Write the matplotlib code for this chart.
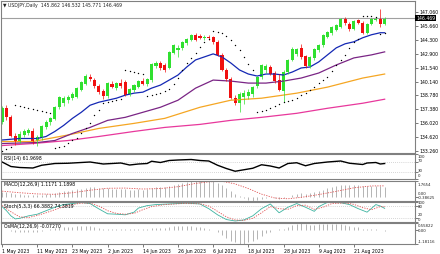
import matplotlib
matplotlib.use("Agg")
import matplotlib.pyplot as plt

W, H = 440, 254

# --- USDJPY daily candles, 1 May 2023 .. 30 Aug 2023 ---
opens = [136.1, 137.5, 136.6, 134.7, 134.3, 134.8, 135.0, 135.2, 134.3, 134.5,
         135.6, 136.1, 136.4, 137.6, 138.0, 138.3, 138.5, 138.6, 139.3, 139.9,
         140.6, 140.3, 139.7, 139.2, 138.7, 139.9, 139.5, 140.0, 140.1, 138.9,
         139.3, 139.6, 140.2, 139.9, 140.3, 141.7, 142.0, 141.8, 141.5, 143.0,
         143.3, 143.5, 144.0, 144.3, 144.8, 144.7, 144.5, 144.6, 144.6, 144.1,
         142.8, 141.3, 140.4, 138.5, 138.0, 138.6, 138.7, 138.9, 139.7, 140.6,
         141.3, 141.6, 141.0, 140.3, 139.2, 141.1, 142.3, 142.9, 143.5, 142.7,
         141.7, 142.5, 143.3, 143.8, 144.6, 145.0, 145.3, 145.6, 146.4, 145.9,
         145.4, 146.3, 146.0, 145.0, 145.9, 146.3, 146.5, 145.862]
highs = [137.7, 137.8, 136.8, 135.0, 135.2, 135.4, 135.5, 135.5, 134.8, 135.8,
         136.3, 136.6, 137.7, 138.7, 138.7, 138.8, 139.1, 139.6, 140.2, 140.9,
         140.9, 140.5, 139.9, 139.4, 140.1, 140.2, 140.1, 140.4, 140.3, 139.5,
         139.9, 140.3, 140.5, 140.5, 142.0, 142.2, 142.2, 142.0, 143.2, 143.9,
         143.8, 144.2, 144.5, 144.9, 145.0, 144.9, 144.8, 144.8, 144.7, 144.3,
         143.0, 141.5, 140.6, 138.8, 139.1, 139.3, 139.4, 139.7, 140.7, 141.9,
         141.9, 141.8, 141.2, 140.9, 141.3, 142.4, 143.6, 143.5, 143.9, 142.8,
         142.7, 143.5, 143.9, 144.9, 145.2, 145.7, 145.9, 146.5, 146.6, 146.1,
         146.3, 146.4, 146.2, 146.0, 146.5, 146.6, 147.4, 146.532]
lows = [135.9, 136.3, 134.6, 133.9, 134.1, 134.6, 134.8, 134.0, 133.8, 134.4,
        135.4, 135.8, 136.3, 137.4, 137.7, 138.0, 138.3, 138.5, 139.2, 139.8,
        140.2, 139.5, 138.9, 138.4, 138.5, 139.5, 139.3, 139.5, 138.7, 138.7,
        139.1, 139.5, 139.8, 139.7, 140.1, 141.5, 141.3, 141.1, 141.4, 142.9,
        142.6, 143.3, 143.8, 144.2, 144.2, 144.4, 144.3, 144.3, 143.9, 142.7,
        141.2, 140.2, 138.4, 137.8, 137.1, 137.9, 138.4, 138.6, 139.5, 140.4,
        141.0, 140.8, 140.0, 139.2, 138.1, 140.9, 142.2, 142.7, 142.4, 141.5,
        141.5, 142.3, 143.1, 143.6, 144.5, 144.8, 145.2, 145.5, 145.8, 145.2,
        145.3, 145.9, 144.9, 144.9, 145.8, 146.2, 145.6, 145.771]
closes = [137.5, 136.6, 134.7, 134.2, 134.9, 135.2, 135.3, 134.3, 134.6, 135.7,
          136.1, 136.5, 137.6, 138.6, 138.5, 138.6, 138.9, 139.5, 140.1, 140.7,
          140.4, 139.7, 139.1, 138.7, 140.0, 139.6, 140.0, 139.7, 138.8, 139.4,
          139.8, 140.2, 139.9, 140.4, 141.9, 142.0, 141.5, 141.3, 143.1, 143.8,
          143.5, 144.1, 144.4, 144.8, 144.3, 144.5, 144.6, 144.5, 144.1, 142.8,
          141.3, 140.4, 138.5, 138.0, 138.9, 139.0, 139.1, 139.6, 140.6, 141.8,
          141.7, 140.9, 140.2, 139.3, 141.1, 142.3, 143.4, 143.4, 142.6, 141.7,
          142.6, 143.4, 143.8, 144.8, 145.1, 145.6, 145.8, 146.4, 146.0, 145.4,
          146.2, 146.0, 145.0, 145.9, 146.4, 146.5, 145.9, 146.469]

# moving averages, sampled along the chart
blue_idx = [0, 4, 8, 10, 12, 14, 16, 18, 20, 22, 24, 26, 28, 30, 32, 34, 36, 38, 40, 42,
            44, 46, 48, 50, 52, 54, 56, 58, 60, 62, 64, 66, 68, 70, 72, 74, 76, 78, 80,
            82, 84, 86, 87]
blue_ma = [134.35, 134.5, 134.5, 134.7, 135.2, 135.8, 136.5, 137.1, 137.8, 138.1, 138.3,
           138.5, 138.8, 139.0, 139.1, 139.5, 139.8, 140.3, 140.8, 141.6, 142.3, 142.6,
           142.9, 142.6, 142.0, 141.3, 140.9, 140.7, 140.9, 140.9, 140.8, 141.1, 141.5,
           141.6, 142.1, 142.8, 143.5, 143.9, 144.1, 144.5, 144.8, 145.0, 145.0]
purple_idx = [0, 4, 8, 12, 16, 20, 24, 28, 32, 36, 40, 44, 48, 52, 56, 60, 64, 68, 72,
              76, 80, 84, 87]
purple_ma = [134.0, 134.05, 134.1, 134.3, 135.0, 135.6, 136.3, 136.6, 137.1, 137.6, 138.3,
             139.5, 140.3, 140.2, 140.0, 140.0, 140.2, 140.5, 141.0, 141.8, 142.5, 142.8, 143.1]
slow_idx = [0, 7, 15, 22, 30, 37, 45, 52, 59, 67, 74, 82, 87]
orange_ma = [134.2, 134.2, 134.85, 135.5, 136.0, 136.5, 137.6, 138.3, 138.5, 139.0, 139.6,
             140.5, 140.9]
magenta_ma = [133.8, 134.0, 134.3, 134.7, 135.2, 135.6, 135.9, 136.3, 136.6, 137.0, 137.5,
              138.0, 138.4]

sar = [133.3, 133.5, 133.7, 137.8, 137.7, 137.6, 137.5, 137.4, 137.3, 137.2,
       137.1, 137.0, 133.6, 133.7, 133.8, 134.1, 134.35, 134.5, 135.0, 135.5,
       136.0, 136.8, 137.3, 138.0, 138.1, 138.2, 138.3, 138.4, 141.3, 141.2,
       141.1, 141.0, 140.9, 138.7, 138.8, 138.9, 139.0, 139.2, 139.4, 139.9,
       140.5, 141.3, 142.0, 142.5, 143.0, 143.6, 144.1, 144.4, 145.2, 145.1,
       145.0, 144.7, 144.3, 143.8, 143.3, 142.6, 141.9, 141.3, 137.1, 137.2,
       137.35, 137.5, 137.7, 137.9, 138.1, 138.2, 138.3, 138.5, 138.8, 139.0,
       139.3, 139.6, 140.0, 140.3, 140.6, 141.2, 141.8, 142.3, 142.8, 143.5,
       144.1, 144.4, 146.7, 146.7, 146.65, 146.6, 144.9, 145.0]

rsi_idx = [0, 2, 4, 7, 9, 12, 15, 18, 20, 23, 25, 27, 29, 31, 33, 34, 36, 38, 40, 43, 45,
           47, 49, 51, 53, 54, 57, 59, 61, 63, 65, 67, 69, 71, 74, 77, 79, 82, 83, 85, 86, 87]
rsi = [68, 50, 46, 44, 55, 62, 63, 66, 68, 60, 62, 64, 56, 60, 62, 71, 66, 74, 76, 78, 74,
       72, 55, 42, 31, 34, 43, 57, 52, 44, 62, 65, 53, 62, 68, 72, 63, 58, 64, 66, 60, 61.97]

macd = [0.55, 0.52, 0.45, 0.35, 0.28, 0.25, 0.24, 0.2, 0.18, 0.22,
        0.28, 0.33, 0.42, 0.55, 0.6, 0.66, 0.72, 0.8, 0.9, 1.0,
        1.05, 1.05, 1.0, 0.92, 0.93, 0.9, 0.9, 0.88, 0.8, 0.78,
        0.78, 0.8, 0.78, 0.8, 0.92, 1.02, 1.06, 1.05, 1.18, 1.32,
        1.4, 1.5, 1.58, 1.68, 1.72, 1.7654, 1.75, 1.72, 1.66, 1.5,
        1.25, 0.95, 0.6, 0.3, 0.05, -0.15, -0.3, -0.38625, -0.35, -0.22,
        -0.1, -0.05, -0.1, -0.2, -0.15, 0.0, 0.2, 0.35, 0.4, 0.35,
        0.38, 0.48, 0.6, 0.78, 0.92, 1.05, 1.15, 1.28, 1.32, 1.28,
        1.3, 1.3, 1.2, 1.18, 1.2, 1.22, 1.15, 1.1171]
sig_idx = [0, 4, 8, 12, 16, 20, 24, 28, 32, 36, 40, 44, 47, 50, 53, 56, 59, 62, 65, 68, 72,
           76, 80, 84, 87]
macd_sig = [0.62, 0.45, 0.32, 0.28, 0.45, 0.72, 0.93, 0.95, 0.85, 0.9, 1.1, 1.45, 1.62,
            1.68, 1.4, 0.9, 0.3, -0.12, -0.2, -0.05, 0.25, 0.6, 0.98, 1.18, 1.1898]

stoch_idx = [0, 1, 2, 3, 4, 6, 8, 10, 12, 14, 16, 18, 20, 22, 24, 26, 28, 30, 31, 33, 35,
             38, 42, 45, 47, 49, 51, 53, 55, 57, 59, 61, 63, 65, 67, 69, 71, 72, 74, 77, 79,
             81, 83, 85, 86, 87]
stoch_main = [75, 55, 30, 15, 18, 30, 38, 55, 72, 85, 90, 95, 90, 64, 40, 38, 35, 48, 68,
              80, 85, 88, 92, 88, 65, 35, 12, 5, 10, 30, 65, 88, 45, 72, 90, 72, 52, 75, 96,
              94, 85, 65, 48, 85, 78, 66.39]
stsig_idx = [0, 2, 4, 6, 8, 10, 12, 14, 16, 18, 20, 22, 24, 26, 28, 30, 32, 34, 37, 41, 45,
             47, 49, 51, 53, 55, 57, 59, 61, 63, 65, 67, 69, 71, 73, 75, 78, 80, 82, 84, 86, 87]
stoch_sig = [80, 50, 25, 22, 32, 45, 60, 75, 85, 92, 92, 78, 55, 42, 38, 42, 60, 75, 85, 90,
             89, 78, 52, 25, 10, 8, 18, 45, 75, 65, 62, 80, 82, 62, 72, 90, 93, 86, 70, 60,
             75, 74.38]

osma = [-0.05, -0.05, -0.1, -0.15, -0.2, -0.2, -0.18, -0.18, -0.15, -0.08,
        0.0, 0.05, 0.12, 0.2, 0.22, 0.25, 0.25, 0.28, 0.3, 0.3,
        0.28, 0.22, 0.15, 0.08, 0.05, 0.03, 0.03, 0.02, 0.02, 0.03,
        0.05, 0.05, 0.06, 0.08, 0.12, 0.14, 0.14, 0.12, 0.2, 0.28,
        0.3, 0.32, 0.3, 0.3, 0.25, 0.25, 0.18, 0.1, 0.0, -0.15,
        -0.4, -0.65, -0.9, -1.05, -1.18116, -1.15, -1.05, -0.95, -0.75, -0.5,
        -0.3, -0.15, -0.05, 0.05, 0.1, 0.25, 0.4, 0.5, 0.55822, 0.45,
        0.4, 0.42, 0.45, 0.5, 0.5, 0.48, 0.45, 0.45, 0.4, 0.3,
        0.25, 0.2, 0.08, 0.02, 0.02, 0.03, -0.05, -0.0727]

date_idx = [0, 8, 16, 24, 32, 40, 48, 56, 64, 72, 80]
date_labels = ["1 May 2023", "11 May 2023", "23 May 2023", "2 Jun 2023", "14 Jun 2023",
               "26 Jun 2023", "6 Jul 2023", "18 Jul 2023", "28 Jul 2023", "9 Aug 2023",
               "21 Aug 2023"]
price_ticks = [147.060, 145.660, 144.300, 142.900, 141.540, 140.140, 138.780, 137.380,
               136.020, 134.620, 133.260]

FS = 3.3
SMALL = 2.8
GRAY = "#808080"
XL = (-0.25, 93.9)
n = len(closes)
xs = list(range(n))

fig = plt.figure(figsize=(W / 100, H / 100), dpi=100)
fig.patch.set_facecolor("white")


def panel(top, bottom):
    ax = fig.add_axes([1 / W, 1 - bottom / H, 414 / W, (bottom - top) / H])
    ax.set_xlim(*XL)
    ax.set_xticks([])
    ax.yaxis.tick_right()
    ax.tick_params(axis="y", length=2, width=0.5, color="#444444", labelsize=FS, pad=1)
    for s in ax.spines.values():
        s.set_color(GRAY)
        s.set_linewidth(0.8)
    return ax


def rlabels(items, size=FS):
    for txt, y in items:
        fig.text(418 / W, 1 - y / H, txt, fontsize=size, va="center", ha="left",
                 color="#222222")


# main chart
ax = panel(1, 153)
ax.set_ylim(133.06, 148.15)
ax.set_yticks(price_ticks)
ax.set_yticklabels(["%.3f" % v for v in price_ticks])
ax.axhline(closes[-1], color="#a0a0a0", lw=0.8)
ax.plot(slow_idx, magenta_ma, color="#e8389c", lw=0.9)
ax.plot(slow_idx, orange_ma, color="#f5a623", lw=0.9)
ax.plot(purple_idx, purple_ma, color="#7a2585", lw=0.9)
ax.plot(blue_idx, blue_ma, color="#1428b4", lw=0.9)
for i in xs:
    up = closes[i] >= opens[i]
    col = "#30e030" if up else "#f01010"
    ax.vlines(i, lows[i], highs[i], color=col, lw=0.5)
    lo, hi = min(opens[i], closes[i]), max(opens[i], closes[i])
    ax.bar(i, max(hi - lo, 0.08), bottom=lo, width=0.7, color=col, lw=0)
ax.plot(xs, sar, ls="none", marker="o", ms=1.0, mew=0, color="black")
ax.text(0.004, 0.985, "\u25bc USDJPY,Daily  145.862 146.532 145.771 146.469",
        transform=ax.transAxes, fontsize=FS, va="top", ha="left", color="#222222")
fig.text(416 / W, 1 - 18 / H, "146.469", fontsize=FS, va="center", ha="left", color="white",
         bbox=dict(boxstyle="square,pad=0.15", fc="black", ec="none"))

# RSI
ax = panel(154, 179)
ax.set_ylim(0, 100)
ax.set_yticks([100, 70, 30, 0])
ax.set_yticklabels([])
for lv in (70, 30):
    ax.axhline(lv, color="#b0b0b0", lw=0.5, ls=(0, (1, 2)))
ax.plot(rsi_idx, rsi, color="black", lw=1.0)
ax.text(0.008, 0.82, "RSI(14) 61.9698", transform=ax.transAxes, fontsize=FS, va="center")
rlabels([("100", 156.5), ("70", 161.2), ("30", 171.0), ("0", 176.0)], SMALL)

# MACD
ax = panel(180.5, 200.5)
ax.set_ylim(-0.38625, 1.7654)
ax.set_yticks([1.7654, 0, -0.38625])
ax.set_yticklabels([])
ax.vlines(xs, 0, macd, color="#a8a8a8", lw=0.6)
ax.plot(sig_idx, macd_sig, color="#e05050", lw=0.6, ls=(0, (1.5, 1.5)))
ax.text(0.008, 0.78, "MACD(12,26,9) 1.1171 1.1898", transform=ax.transAxes, fontsize=FS,
        va="center")
rlabels([("1.7654", 184.5), ("0.00", 193.8), ("-0.38625", 198.3)], SMALL)

# Stochastic
ax = panel(201.5, 222)
ax.set_ylim(0, 100)
ax.set_yticks([100, 80, 20, 0])
ax.set_yticklabels([])
for lv in (80, 20):
    ax.axhline(lv, color="#b0b0b0", lw=0.5, ls=(0, (1, 2)))
ax.plot(stoch_idx, stoch_main, color="#3cb3a0", lw=0.6)
ax.plot(stsig_idx, stoch_sig, color="#e05050", lw=0.6, ls=(0, (1.5, 1.5)))
ax.text(0.008, 0.78, "Stoch(5,3,3) 66.3882 74.3819", transform=ax.transAxes, fontsize=FS,
        va="center")
rlabels([("100", 203.2), ("80", 207.3), ("20", 215.3), ("0", 219.6)], SMALL)

# OsMA
ax = panel(223, 244)
ax.set_ylim(-1.18116, 0.55822)
ax.set_yticks([0.55822, 0, -1.18116])
ax.set_yticklabels([])
ax.vlines(xs, 0, osma, color="#a8a8a8", lw=0.6)
ax.text(0.008, 0.84, "OsMA(12,26,9) -0.07270", transform=ax.transAxes, fontsize=FS,
        va="center")
rlabels([("0.55822", 226.2), ("0.00", 230.6), ("-1.18116", 241.7)], SMALL)
ax.set_xticks(date_idx)
ax.set_xticklabels(date_labels, ha="left")
ax.tick_params(axis="x", length=2, width=0.5, color="#444444", labelsize=FS, pad=1.5)

fig.savefig("out.png", dpi=100, facecolor="white")
